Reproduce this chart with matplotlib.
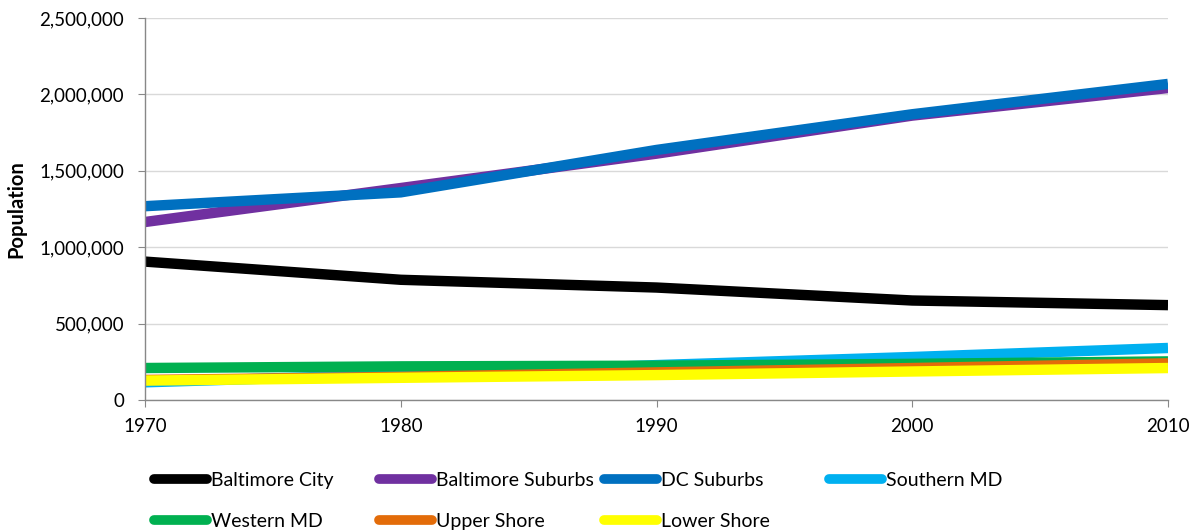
import matplotlib
matplotlib.use("Agg")
import matplotlib.pyplot as plt
import matplotlib.lines as mlines
from matplotlib.ticker import FuncFormatter

years = [1970, 1980, 1990, 2000, 2010]
baltimore_city = [905759, 786775, 736014, 651154, 620961]
baltimore_suburbs = [1164911, 1387248, 1612205, 1861277, 2041730]
dc_suburbs = [1268303, 1358916, 1636503, 1870133, 2068582]
southern_md = [115748, 167284, 228500, 281320, 340439]
western_md = [209349, 220132, 224477, 236699, 252614]
upper_shore = [131322, 151380, 180726, 209295, 239951]
lower_shore = [127007, 145240, 163043, 186608, 209275]

series = [
    ("Baltimore City", baltimore_city, "#000000"),
    ("Baltimore Suburbs", baltimore_suburbs, "#7030A0"),
    ("DC Suburbs", dc_suburbs, "#0070C0"),
    ("Southern MD", southern_md, "#00B0F0"),
    ("Western MD", western_md, "#00B050"),
    ("Upper Shore", upper_shore, "#E36C09"),
    ("Lower Shore", lower_shore, "#FFFF00"),
]

plt.rcParams['font.family'] = ['Lato', 'DejaVu Sans']

fig = plt.figure(figsize=(11.97, 5.31), dpi=100)
W, H = 1197, 531
ax = fig.add_axes([145 / W, 1 - 400 / H, (1168 - 145) / W, (400 - 18) / H])

handles = {}
for name, vals, col in series:
    ln, = ax.plot(years, vals, color=col, lw=7.5, solid_capstyle='butt', label=name)
    handles[name] = ln

ax.set_xlim(1970, 2010)
ax.set_ylim(0, 2500000)
ax.set_xticks(years)
ax.set_yticks(range(0, 2500001, 500000))
ax.yaxis.set_major_formatter(FuncFormatter(lambda v, p: f"{int(v):,}"))
ax.grid(axis='y', color='#D9D9D9', lw=1)
ax.set_axisbelow(True)
for s in ['top', 'right']:
    ax.spines[s].set_visible(False)
for s in ['left', 'bottom']:
    ax.spines[s].set_color('#888888')
    ax.spines[s].set_linewidth(1)
ax.tick_params(axis='both', colors='#888888', labelcolor='black', labelsize=13.5, length=5, direction='out')
ax.tick_params(axis='y', pad=10)
ax.tick_params(axis='x', pad=8)
ax.set_ylabel("Population", fontsize=14.5, fontweight='bold')
ax.yaxis.set_label_coords((26 - 145) / (1168 - 145), 0.5)

cols = [["Baltimore City", "Western MD"], ["Baltimore Suburbs", "Upper Shore"],
        ["DC Suburbs", "Lower Shore"], ["Southern MD"]]
xs = [150, 375, 600, 825]
for names, x0 in zip(cols, xs):
    hs = [mlines.Line2D([], [], color=handles[n].get_color(), lw=7, solid_capstyle='round') for n in names]
    fig.legend(hs, names, loc='upper left', bbox_to_anchor=((x0 + 4) / W, 1 - 472 / H),
               frameon=False, fontsize=14, handlelength=2.7, handletextpad=0.25,
               labelspacing=1.22, borderaxespad=0, borderpad=0)

fig.savefig("out.png", dpi=100)
